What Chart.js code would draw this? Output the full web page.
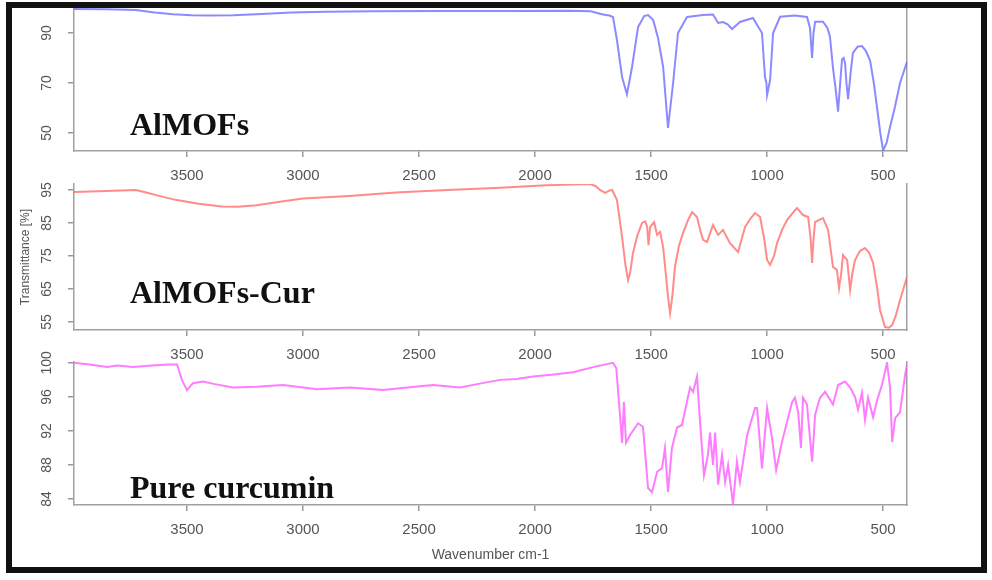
<!DOCTYPE html>
<html>
<head>
<meta charset="utf-8">
<script src="https://cdn.jsdelivr.net/npm/chart.js@4"></script>
<style>
  body { margin: 0; background: #fff; width: 992px; height: 580px; position: relative; overflow: hidden; }
  .panel { position: absolute; left: 14px; }
  #frame { position: absolute; left: 6px; top: 2px; width: 969px; height: 559px; border: 6px solid #111; pointer-events: none; z-index: 5; }
</style>
</head>
<body>
<div class="panel" style="top:0px"><canvas id="c1" width="978" height="191"></canvas></div>
<div class="panel" style="top:170px"><canvas id="c2" width="978" height="200"></canvas></div>
<div class="panel" style="top:350px"><canvas id="c3" width="978" height="218"></canvas></div>
<div id="frame"></div>
<script>
// tick labels
const xTicks = [500, 1000, 1500, 2000, 2500, 3000, 3500];
const yTicksAl = [50, 70, 90];
const yTicksCur = [55, 65, 75, 85, 95];
const yTicksPure = [84, 88, 92, 96, 100];

// AlMOFs
const alWn = [3987, 3850, 3720, 3640, 3560, 3480, 3400, 3300, 3180, 3050, 2900, 2700, 2400, 2100, 1850, 1760, 1733, 1707, 1680, 1664, 1647, 1625, 1604, 1582, 1556, 1530, 1513, 1491, 1470, 1448, 1427, 1405, 1384, 1345, 1276, 1233, 1211, 1190, 1170, 1151, 1117, 1061, 1022, 1009, 1003, 1000, 987, 974, 944, 880, 828, 815, 810, 806, 800, 793, 759, 740, 729, 716, 705, 694, 685, 677, 670, 664, 658, 651, 640, 630, 610, 591, 575, 556, 540, 526, 512, 500, 485, 470, 450, 427, 397];
const alT = [99.6, 99.5, 99.2, 98.2, 97.5, 97.1, 97.0, 97.1, 97.6, 98.2, 98.5, 98.7, 98.8, 98.8, 98.9, 98.7, 98.0, 97.4, 97.0, 96.4, 87.2, 72.4, 65.5, 76.4, 92.4, 96.8, 97.2, 95.2, 88, 76.4, 52, 70, 90, 96.4, 97.2, 97.4, 94, 94.4, 93.5, 91.6, 94.4, 96, 90, 72.4, 70, 65.2, 71.2, 90, 96.5, 97, 96.4, 92, 85, 80, 90, 94.5, 94.5, 92, 88.5, 76, 68, 58.5, 70, 79.5, 80, 78, 70, 63.5, 74, 82, 84.5, 84.8, 83, 79, 70, 60, 50, 43, 46, 52.5, 60, 70, 78.5];

// AlMOFs-Cur
const curWn = [3987, 3850, 3720, 3680, 3620, 3550, 3450, 3350, 3280, 3200, 3100, 3000, 2800, 2600, 2400, 2150, 1950, 1800, 1763, 1740, 1720, 1698, 1680, 1668, 1647, 1625, 1610, 1599, 1590, 1578, 1560, 1539, 1525, 1517, 1511, 1504, 1487, 1474, 1461, 1448, 1437, 1427, 1418, 1408, 1397, 1380, 1362, 1340, 1323, 1302, 1285, 1276, 1259, 1233, 1211, 1190, 1160, 1125, 1095, 1070, 1052, 1030, 1012, 1000, 987, 970, 957, 935, 914, 890, 871, 845, 823, 812, 806, 800, 793, 759, 737, 716, 699, 690, 680, 673, 655, 642, 632, 621, 600, 578, 560, 543, 525, 513, 492, 475, 461, 445, 427, 397];
const curT = [94.4, 94.7, 95.0, 94.3, 93.2, 92.0, 90.8, 90.0, 89.9, 90.4, 91.4, 92.4, 93.2, 94.2, 94.9, 95.7, 96.4, 96.7, 96.8, 96.2, 95.0, 94.1, 94.8, 95.0, 92, 80.8, 72, 67.7, 70, 75.9, 81, 85, 85.5, 83.8, 78.3, 83.8, 85.3, 81.4, 82.3, 77.7, 70, 62.6, 57.7, 63, 71.7, 78, 82, 86, 88.3, 86.8, 82, 79.9, 79.2, 84.4, 81.4, 82.9, 78.9, 76.2, 83.8, 86.5, 88, 86.8, 80, 73.8, 72.3, 75, 78.9, 83, 85.9, 88, 89.5, 87.4, 86.8, 80, 72.9, 80, 85.3, 86.5, 82.9, 71.7, 70.8, 65.3, 70, 75.3, 73.8, 64.7, 70, 73.8, 76.5, 77.4, 76, 72.9, 65, 58.6, 53.5, 53.3, 54.1, 57, 61.7, 68.6];

// Pure curcumin
const pureWn = [3987, 3920, 3845, 3800, 3733, 3650, 3580, 3543, 3522, 3500, 3485, 3474, 3431, 3380, 3302, 3200, 3086, 3000, 2940, 2797, 2655, 2550, 2440, 2323, 2250, 2151, 2080, 2009, 1930, 1836, 1750, 1664, 1650, 1634, 1625, 1617, 1608, 1591, 1556, 1535, 1513, 1496, 1474, 1453, 1440, 1427, 1410, 1388, 1367, 1332, 1319, 1302, 1289, 1272, 1255, 1246, 1233, 1224, 1211, 1194, 1181, 1168, 1147, 1130, 1117, 1086, 1052, 1043, 1022, 1000, 979, 961, 936, 910, 892, 880, 866, 854, 845, 828, 806, 793, 772, 750, 716, 694, 664, 642, 621, 608, 591, 578, 565, 543, 526, 505, 483, 470, 461, 448, 427, 405, 397];
const pureT = [100.0, 99.8, 99.5, 99.7, 99.5, 99.7, 99.8, 99.8, 98.0, 96.8, 97.3, 97.6, 97.8, 97.5, 97.1, 97.2, 97.4, 97.1, 96.9, 97.1, 96.8, 97.1, 97.4, 97.1, 97.5, 98.0, 98.1, 98.4, 98.6, 98.9, 99.5, 100.0, 99.4, 93.9, 90.6, 95.4, 90.6, 91.5, 92.9, 92.5, 85.3, 84.8, 87.2, 87.6, 90, 84.8, 90, 92.4, 92.7, 97.1, 96.6, 98.4, 93.1, 86.8, 89.2, 91.8, 88, 91.8, 85.7, 89.2, 86, 88, 83.4, 88.4, 86, 91.5, 94.7, 94.7, 87.6, 94.7, 91.2, 87.4, 90.7, 93.5, 95.4, 95.9, 94.2, 90, 95.9, 95.1, 88.4, 93.9, 95.9, 96.6, 95.1, 97.4, 97.8, 97.1, 96, 94.5, 96.5, 93.3, 95.9, 93.6, 95.6, 97.4, 100, 97.1, 90.7, 93.5, 94.2, 98.6, 99.8];

const panelLabel = {
    id: 'panelLabel',
    afterDatasetsDraw(chart, args, opts) {
        const ctx = chart.ctx;
        const area = chart.chartArea;
        ctx.save();
        ctx.font = 'bold 32px "Liberation Serif", "Times New Roman", serif';
        ctx.fillStyle = '#111';
        ctx.textBaseline = 'alphabetic';
        ctx.fillText(opts.text, area.left + opts.dx, area.bottom - opts.dy);
        ctx.restore();
    }
};

function makePanel(id, wn, t, color, yMin, yMax, yTicks, opts) {
    const axisColor = '#a0a0a0';
    const tickFont = { family: '"Liberation Sans", Arial, sans-serif', size: 15 };
    new Chart(document.getElementById(id), {
        type: 'line',
        data: {
            datasets: [{
                data: wn.map((x, i) => ({ x: x, y: t[i] })),
                borderColor: color,
                borderWidth: 2,
                pointRadius: 0,
                tension: 0,
                fill: false
            }]
        },
        options: {
            responsive: false,
            animation: false,
            events: [],
            layout: { padding: { top: opts.padTop, right: 85, left: 0, bottom: 0 } },
            plugins: {
                legend: { display: false },
                tooltip: { enabled: false },
                panelLabel: { text: opts.label, dx: 56, dy: opts.labelDy }
            },
            scales: {
                x: {
                    type: 'linear',
                    reverse: true,
                    min: 397,
                    max: 3987,
                    afterBuildTicks: s => { s.ticks = xTicks.map(v => ({ value: v })); },
                    ticks: { callback: v => String(v), color: '#555', font: tickFont, padding: 10, maxRotation: 0, autoSkip: false },
                    grid: { display: true, drawOnChartArea: false, drawTicks: true, tickLength: 6, color: '#999', lineWidth: 1.5 },
                    border: { display: true, color: axisColor, width: 1.5 },
                    title: { display: !!opts.xTitle, text: opts.xTitle || '', color: '#555', font: { family: '"Liberation Sans", Arial, sans-serif', size: 14 } },
                    afterFit: s => { s.height = opts.xHeight; s.paddingLeft = 0; s.paddingRight = 0; }
                },
                y: {
                    min: yMin,
                    max: yMax,
                    afterBuildTicks: s => { s.ticks = yTicks.map(v => ({ value: v })); },
                    ticks: { color: '#555', font: { family: '"Liberation Sans", Arial, sans-serif', size: 14 }, padding: opts.yPad, minRotation: 90, maxRotation: 90, crossAlign: 'center' },
                    grid: { display: true, drawOnChartArea: false, drawTicks: true, tickLength: 6, color: '#999', lineWidth: 1.5 },
                    border: { display: true, color: axisColor, width: 1.5 },
                    title: { display: !!opts.yTitle, text: opts.yTitle || '', color: '#555', font: { family: '"Liberation Sans", Arial, sans-serif', size: 12 } },
                    afterFit: s => { s.width = 60; s.paddingTop = 0; s.paddingBottom = 0; }
                },
                yr: {
                    position: 'right',
                    min: yMin,
                    max: yMax,
                    ticks: { display: false },
                    grid: { display: false },
                    border: { display: true, color: axisColor, width: 1.5 },
                    afterFit: s => { s.width = 0; s.paddingTop = 0; s.paddingBottom = 0; }
                }
            }
        },
        plugins: [panelLabel]
    });
}

makePanel('c1', alWn, alT, 'rgba(100,100,255,0.75)', 42.8, 100, yTicksAl,
    { padTop: 8, xHeight: 40, yPad: 13, label: 'AlMOFs', labelDy: 16 });
makePanel('c2', curWn, curT, 'rgba(255,90,90,0.7)', 52.6, 96.8, yTicksCur,
    { padTop: 14, xHeight: 40, yPad: 13, label: 'AlMOFs-Cur', labelDy: 27, yTitle: 'Transmittance [%]' });
makePanel('c3', pureWn, pureT, 'rgba(255,80,255,0.75)', 83.3, 100.1, yTicksPure,
    { padTop: 12, xHeight: 63, yPad: 9, label: 'Pure curcumin', labelDy: 7, xTitle: 'Wavenumber cm-1' });
</script>
</body>
</html>
